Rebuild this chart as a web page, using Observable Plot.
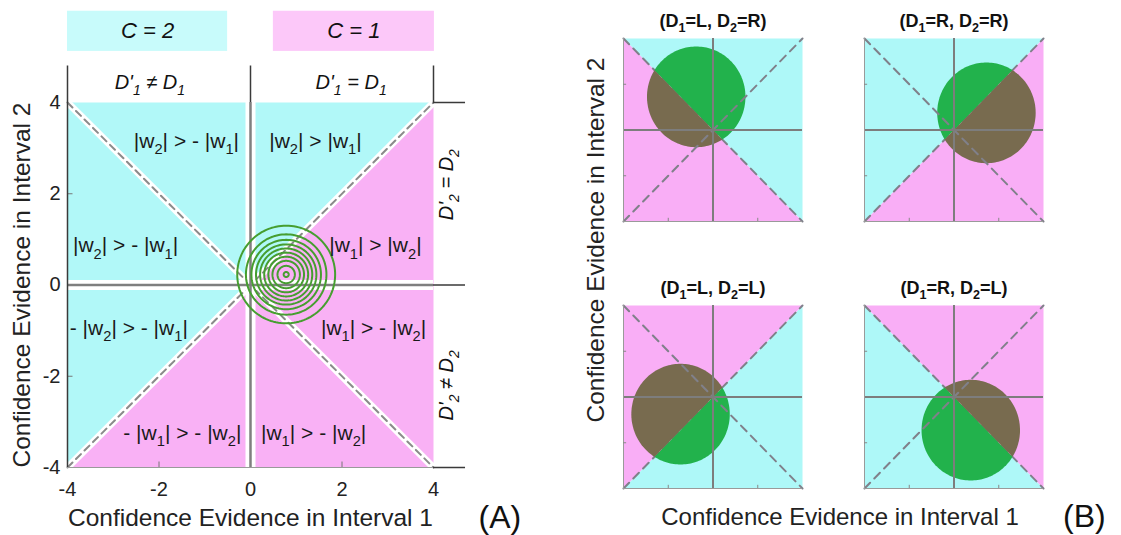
<!DOCTYPE html>
<html>
<head>
<meta charset="utf-8">
<script src="https://cdn.jsdelivr.net/npm/d3@7"></script>
<script src="https://cdn.jsdelivr.net/npm/@observablehq/plot@0.6"></script>
<style>
  html, body { margin: 0; padding: 0; background: white; }
  #root { position: relative; width: 1121px; height: 535px; overflow: hidden; font-family: "Liberation Sans", Arial, sans-serif; color: #222; }
  #root svg { position: absolute; overflow: visible; }
  .lbl { position: absolute; white-space: nowrap; line-height: 1; }
</style>
</head>
<body>
<div id="root"></div>
<script>
// ---------------- data ----------------
const lim = 4;                         // axis limits (both panels)
const axisTicks = [-4, -2, 0, 2, 4];   // tick values
const innerTicks = [-2, 2];            // small inward tick marks
const xExtent = 4.7;                   // right extension of guide lines (panel A)
const yExtent = 4.8;                   // top extension of guide lines (panel A)

// Panel A region labels
const regionLabels = ["|w_2| > - |w_1|", "|w_2| > |w_1|", "|w_2| > - |w_1|", "|w_1| > |w_2|",
                      "- |w_2| > - |w_1|", "|w_1| > - |w_2|", "- |w_1| > - |w_2|", "|w_1| > - |w_2|"];
const regionLabelX = [-1.4, 1.42, -2.73, 2.73, -2.66, 2.69, -1.49, 1.38];
const regionLabelY = [3.16, 3.16, 0.86, 0.86, -0.94, -0.94, -3.25, -3.25];

// Panel A header boxes
const cLabels = ["C = 2", "C = 1"];
const cBoxX1 = [-4, 0.5];
const cBoxX2 = [-0.5, 4.02];
const cBoxY1 = 5.12, cBoxY2 = 6.0;
const dTopLabels = ["D'_1 ≠ D_1", "D'_1 = D_1"];
const dTopX = [-2.2, 2.2];
const dSideLabels = ["D'_2 = D_2", "D'_2 ≠ D_2"];
const dSideY = [2.2, -2.2];

// Panel A: cyan half-plane normal (cyan where -x + y > 0)
const normalA = [-1, 1];

// Panel A contours (concentric)
const contourCX = 0.78, contourCY = 0.23;
const contourR = [1.07, 0.88, 0.76, 0.66, 0.57, 0.48, 0.39, 0.30, 0.19, 0.055];

// Panel B subplots
const subTitles = ["(D_1=L, D_2=R)", "(D_1=R, D_2=R)", "(D_1=L, D_2=L)", "(D_1=R, D_2=L)"];
const subNormalX = [1, -1, 1, -1];      // cyan side normal
const subNormalY = [1, 1, -1, -1];
const blobX = [-0.75, 1.45, -1.45, 0.75];
const blobY = [1.45, 0.75, -0.75, -1.45];
const blobR = [2.2, 2.2, 2.2, 2.2];

const xLabel1 = "Confidence Evidence in Interval 1";
const yLabel2 = "Confidence Evidence in Interval 2";

// ---------------- styles ----------------
const FONT = '"Liberation Sans", Arial, Helvetica, sans-serif';
const CYAN_A = "#b1f8f8", PINK_A = "#f9b1f5";
const CYAN_BOX = "#c8fbfb", PINK_BOX = "#fcc8f9";
const CYAN_B = "#aef8f8", PINK_B = "#f9aef6";
const GREEN = "#22b24c", BROWN = "#786b4f";
const CONTOUR = "#469e30";

// ---------------- helpers ----------------
const square = [[-lim, -lim], [lim, -lim], [lim, lim], [-lim, lim]];
function clipHalf(poly, nx, ny) {
  const out = [];
  for (let i = 0; i < poly.length; i++) {
    const a = poly[i], b = poly[(i + 1) % poly.length];
    const da = nx * a[0] + ny * a[1], db = nx * b[0] + ny * b[1];
    if (da >= 0) out.push(a);
    if ((da >= 0) !== (db >= 0)) {
      const t = da / (da - db);
      out.push([a[0] + t * (b[0] - a[0]), a[1] + t * (b[1] - a[1])]);
    }
  }
  return out;
}
function toRows(poly, id) { return poly.map(([x, y]) => ({x, y, id})); }
function circlePoly(cx, cy, r, n = 180) {
  const pts = [];
  for (let k = 0; k < n; k++) { const a = 2 * Math.PI * k / n; pts.push([cx + r * Math.cos(a), cy + r * Math.sin(a)]); }
  return pts;
}
const diagUp = [{x: -lim, y: -lim}, {x: lim, y: lim}];
const diagDown = [{x: -lim, y: lim}, {x: lim, y: -lim}];

function subify(svg) {
  svg.querySelectorAll("text").forEach(t => {
    const s = t.textContent;
    if (!s.includes("_")) return;
    const fs = parseFloat(getComputedStyle(t).fontSize) || 16;
    const parts = s.split(/_(.)/);
    while (t.firstChild) t.removeChild(t.firstChild);
    let pending = 0;
    parts.forEach((p, i) => {
      if (p === "") return;
      const ts = document.createElementNS("http://www.w3.org/2000/svg", "tspan");
      ts.textContent = p;
      if (i % 2 === 1) {
        ts.setAttribute("font-size", (fs * 0.7).toFixed(1));
        ts.setAttribute("dy", (fs * 0.3 + pending).toFixed(1));
        pending = -fs * 0.3;
      } else if (pending) {
        ts.setAttribute("dy", pending.toFixed(1));
        pending = 0;
      }
      t.appendChild(ts);
    });
  });
}

const root = document.getElementById("root");

// ---------------- Panel A ----------------
const cyanA = toRows(clipHalf(square, normalA[0], normalA[1]), "c");
const pinkA = toRows(clipHalf(square, -normalA[0], -normalA[1]), "p");
const contourRows = contourR.flatMap((r, i) => {
  const pts = circlePoly(contourCX, contourCY, r, 120);
  pts.push(pts[0]);
  return toRows(pts, i);
});
const regionRows = regionLabels.map((t, i) => ({t, x: regionLabelX[i], y: regionLabelY[i]}));
const cRows = cLabels.map((t, i) => ({t, x1: cBoxX1[i], x2: cBoxX2[i], y1: cBoxY1, y2: cBoxY2, xm: (cBoxX1[i] + cBoxX2[i]) / 2, ym: (cBoxY1 + cBoxY2) / 2}));
const dTopRows = dTopLabels.map((t, i) => ({t, x: dTopX[i]}));
const dSideRows = dSideLabels.map((t, i) => ({t, y: dSideY[i]}));

const tickFmt = d => String(d);

const GUIDE = "#3a3a3a", GRAY = "#7f7f7f";
const plotA = Plot.plot({
  width: 540, height: 535,
  marginLeft: 67, marginRight: 107, marginTop: 102, marginBottom: 68,
  style: {fontFamily: FONT, fontSize: "20px", background: "transparent", color: "#222"},
  x: {domain: [-lim, lim], axis: null},
  y: {domain: [-lim, lim], axis: null},
  marks: [
    Plot.rect(cRows, {x1: "x1", x2: "x2", y1: "y1", y2: "y2", fill: (d, i) => i === 0 ? CYAN_BOX : PINK_BOX}),
    Plot.text(cRows, {x: "xm", y: "ym", text: "t", fontSize: 22, fontStyle: "italic", fill: "#111"}),
    Plot.line(cyanA, {x: "x", y: "y", z: "id", fill: CYAN_A, stroke: "none"}),
    Plot.line(pinkA, {x: "x", y: "y", z: "id", fill: PINK_A, stroke: "none"}),
    // diagonals with white halo
    Plot.line(diagUp, {x: "x", y: "y", stroke: "white", strokeWidth: 7}),
    Plot.line(diagDown, {x: "x", y: "y", stroke: "white", strokeWidth: 7}),
    Plot.line(diagUp, {x: "x", y: "y", stroke: "#8a8a8a", strokeWidth: 2, strokeDasharray: "7,5"}),
    Plot.line(diagDown, {x: "x", y: "y", stroke: "#8a8a8a", strokeWidth: 2, strokeDasharray: "7,5"}),
    // white gaps along the zero lines
    Plot.ruleX([0], {y1: -lim, y2: lim, stroke: "white", strokeWidth: 10}),
    Plot.ruleY([0], {x1: -lim, x2: lim, stroke: "white", strokeWidth: 10}),
    // zero lines
    Plot.ruleX([0], {y1: -lim, y2: lim, stroke: GRAY, strokeWidth: 2.5}),
    Plot.ruleY([0], {x1: -lim, x2: lim, stroke: GRAY, strokeWidth: 2.5}),
    // axes & guide extensions
    Plot.ruleY([-lim], {x1: -lim, x2: lim, stroke: "#9a9a9a", strokeWidth: 1}),
    Plot.ruleX(innerTicks, {y1: -lim, y2: -lim + 0.12, stroke: "#777", strokeWidth: 1}),
    Plot.ruleY(innerTicks, {x1: -lim, x2: -lim + 0.12, stroke: "#777", strokeWidth: 1}),
    Plot.ruleX([-lim], {y1: -lim, y2: yExtent, stroke: GUIDE, strokeWidth: 1.5}),
    Plot.ruleX([0], {y1: lim, y2: yExtent, stroke: GUIDE, strokeWidth: 1.5}),
    Plot.ruleX([lim], {y1: lim, y2: yExtent, stroke: GUIDE, strokeWidth: 1.5}),
    Plot.ruleY([lim, 0, -lim], {x1: lim, x2: xExtent, stroke: GUIDE, strokeWidth: 1.5}),
    // contours
    Plot.line(contourRows, {x: "x", y: "y", z: "id", stroke: CONTOUR, strokeWidth: 2}),
    // tick labels
    Plot.text(axisTicks, {x: d => d, text: tickFmt, frameAnchor: "bottom", dy: 14, lineAnchor: "top", fontSize: 20, fill: "#222"}),
    Plot.text(axisTicks, {y: d => d, text: tickFmt, frameAnchor: "left", dx: -7, textAnchor: "end", fontSize: 20, fill: "#222"}),
    // labels
    Plot.text(regionRows, {x: "x", y: "y", text: "t", fontSize: 21, fill: "#1a1a1a"}),
    Plot.text(dTopRows, {x: "x", text: "t", frameAnchor: "top", dy: -14, lineAnchor: "bottom", fontSize: 20, fontStyle: "italic", fill: "#111"}),
    Plot.text(dSideRows, {x: lim, y: "y", text: "t", dx: 19, rotate: -90, lineAnchor: "bottom", fontSize: 20, fontStyle: "italic", fill: "#111"}),
    Plot.text([xLabel1], {frameAnchor: "bottom", dy: 58, textAnchor: "middle", lineAnchor: "bottom", fontSize: 24.5, fill: "#222"}),
    Plot.text([yLabel2], {frameAnchor: "left", dx: -38, rotate: -90, textAnchor: "middle", lineAnchor: "bottom", fontSize: 24.5, fill: "#222"}),
    Plot.text(["(A)"], {frameAnchor: "bottom-right", dx: 45, dy: 60, textAnchor: "start", lineAnchor: "bottom", fontSize: 32, fill: "#111"})
  ]
});
plotA.style.left = "0px";
plotA.style.top = "0px";
root.appendChild(plotA);
subify(plotA);

// ---------------- Panel B ----------------
const subLeft = [623, 864, 623, 864];
const subTop = [38, 38, 305, 305];
const subW = 179, subH = 183, padL = 20, padR = 20, padT = 40, padB = 12;

subTitles.forEach((title, i) => {
  const nx = subNormalX[i], ny = subNormalY[i];
  const cyan = toRows(clipHalf(square, nx, ny), "c");
  const pink = toRows(clipHalf(square, -nx, -ny), "p");
  const circ = circlePoly(blobX[i], blobY[i], blobR[i]);
  const green = toRows(clipHalf(circ, nx, ny), "g");
  const brown = toRows(clipHalf(circ, -nx, -ny), "b");
  // boundary diagonal is perpendicular to the normal
  const boundary = nx * ny > 0 ? diagDown : diagUp;
  const other = nx * ny > 0 ? diagUp : diagDown;
  const dash = {x: "x", y: "y", stroke: "#80808a", strokeWidth: 2, strokeDasharray: "8,6"};
  const p = Plot.plot({
    width: subW + padL + padR, height: subH + padT + padB,
    marginLeft: padL, marginRight: padR, marginTop: padT, marginBottom: padB,
    style: {fontFamily: FONT, background: "transparent", color: "#111"},
    x: {domain: [-lim, lim], axis: null},
    y: {domain: [-lim, lim], axis: null},
    marks: [
      Plot.line(cyan, {x: "x", y: "y", z: "id", fill: CYAN_B, stroke: "none"}),
      Plot.line(pink, {x: "x", y: "y", z: "id", fill: PINK_B, stroke: "none"}),
      Plot.line(boundary, dash),
      Plot.line(green, {x: "x", y: "y", z: "id", fill: GREEN, stroke: "none"}),
      Plot.line(brown, {x: "x", y: "y", z: "id", fill: BROWN, stroke: "none"}),
      Plot.line(other, dash),
      Plot.ruleX([0], {stroke: "#7d7d7d", strokeWidth: 2}),
      Plot.ruleY([0], {stroke: "#7d7d7d", strokeWidth: 2}),
      Plot.ruleX([-lim], {stroke: "#9a9a9a", strokeWidth: 1}),
      Plot.ruleY([-lim], {stroke: "#9a9a9a", strokeWidth: 1}),
      Plot.ruleX(innerTicks, {y1: -lim, y2: -lim + 0.14, stroke: "#888", strokeWidth: 1}),
      Plot.ruleY(innerTicks, {x1: -lim, x2: -lim + 0.14, stroke: "#888", strokeWidth: 1}),
      Plot.text([title], {frameAnchor: "top", dy: -12, lineAnchor: "bottom", fontSize: 18, fontWeight: "bold", fill: "#111"})
    ]
  });
  p.style.left = (subLeft[i] - padL) + "px";
  p.style.top = (subTop[i] - padT) + "px";
  root.appendChild(p);
  subify(p);
});

// Panel B shared labels
function addLabel(text, css) {
  const d = document.createElement("div");
  d.className = "lbl";
  d.textContent = text;
  Object.assign(d.style, css);
  root.appendChild(d);
}
addLabel(yLabel2, {left: "596px", top: "240px", fontSize: "24.5px", transform: "translate(-50%, -50%) rotate(-90deg)"});
addLabel(xLabel1, {left: "840px", top: "505px", fontSize: "24px", transform: "translateX(-50%)"});
addLabel("(B)", {left: "1063px", top: "500px", fontSize: "32px", color: "#111"});
</script>
</body>
</html>
